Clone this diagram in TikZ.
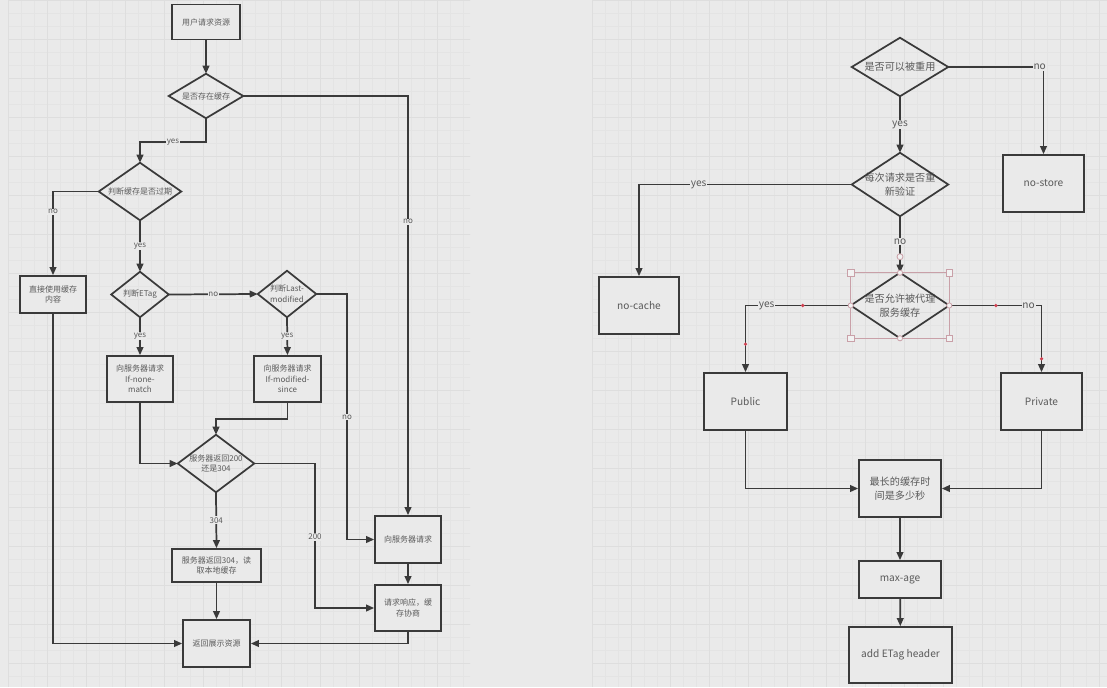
\documentclass[tikz,border=0pt]{standalone}
\usepackage{fontspec}
\usetikzlibrary{arrows.meta}
\setmainfont{Noto Sans CJK SC}
\def\pu{0.75pt}
\definecolor{bgc}{HTML}{EAEAEA}
\definecolor{gridmin}{HTML}{E4E4E4}
\definecolor{gridmaj}{HTML}{DEDEDE}
\definecolor{lc}{HTML}{3A3A3A}
\definecolor{tc}{HTML}{5A5A5A}
\definecolor{selc}{HTML}{C9A0A8}
\definecolor{dotc}{HTML}{D04050}
\tikzset{
  sz/.style 2 args={minimum width=#1*\pu, minimum height=#2*\pu},
  box/.style={draw=lc, line width=1.3pt, fill=bgc, inner sep=0pt, align=center, text=tc},
  dia/.style={inner sep=0pt, align=center, text=tc},
  dline/.style={draw=lc, line width=1.3pt, line join=miter},
  arr/.style={draw=lc, line width=1.3pt, -{Triangle[length=6pt,width=5pt]}},
  lbl/.style={fill=bgc, inner sep=0.6pt, text=tc},
  fl/.style={font=\fontsize{6}{8}\selectfont},
  fr/.style={font=\fontsize{7.6}{10}\selectfont},
}
\begin{document}
\begin{tikzpicture}[x=0.75pt,y=-0.75pt]
\useasboundingbox (0,0) rectangle (1107,687);
\fill[bgc] (0,0) rectangle (1107,687);
% grids
\begin{scope}
\clip (8,0) rectangle (470,687);
\foreach \i in {0,...,60} {\draw[gridmin,line width=0.3pt] (8+\i*13,0) -- (8+\i*13,687);}
\foreach \i in {0,...,53} {\draw[gridmin,line width=0.3pt] (0,\i*13) -- (1107,\i*13);}
\foreach \i in {0,...,20} {\draw[gridmaj,line width=0.4pt] (8+\i*39,0) -- (8+\i*39,687);}
\foreach \i in {0,...,18} {\draw[gridmaj,line width=0.4pt] (0,\i*39) -- (1107,\i*39);}
\end{scope}
\begin{scope}
\clip (592,0) rectangle (1107,687);
\foreach \i in {0,...,45} {\draw[gridmin,line width=0.3pt] (592+\i*13,0) -- (592+\i*13,687);}
\foreach \i in {0,...,53} {\draw[gridmin,line width=0.3pt] (0,\i*13) -- (1107,\i*13);}
\foreach \i in {0,...,15} {\draw[gridmaj,line width=0.4pt] (592+\i*39,0) -- (592+\i*39,687);}
\foreach \i in {0,...,18} {\draw[gridmaj,line width=0.4pt] (0,\i*39) -- (1107,\i*39);}
\end{scope}

% ---------- left flowchart ----------
\node[box,fl,sz={68}{35}] (start) at (206,22) {用户请求资源};
\node[dia,fl,sz={74}{44}] (d1) at (206,96) {是否存在缓存};
\node[dia,fl,sz={82}{57}] (d2) at (140,191.5) {判断缓存是否过期};
\node[box,fl,sz={66}{37}] (direct) at (53,294.5) {直接使用缓存\\内容};
\node[dia,fl,sz={57}{45}] (etag) at (140,294.5) {判断ETag};
\node[dia,fl,sz={58}{46}] (lm) at (287,294) {判断Last-\\modified};
\node[box,fl,sz={66}{46}] (inm) at (140,379) {向服务器请求\\If-none-\\match};
\node[box,fl,sz={67}{46}] (ims) at (287.5,379) {向服务器请求\\If-modified-\\since};
\node[dia,fl,sz={76}{57}] (d200) at (216,463.5) {服务器返回200\\还是304};
\node[box,fl,sz={89}{33}] (r304) at (216.5,565.5) {服务器返回304，读\\取本地缓存};
\node[box,fl,sz={66}{47}] (req) at (408,539.5) {向服务器请求};
\node[box,fl,sz={66}{46}] (resp) at (408,608) {请求响应，缓\\存协商};
\node[box,fl,sz={67}{47}] (ret) at (216.5,643.5) {返回展示资源};
\coordinate (k1) at (347,417);
\coordinate (k2) at (315,537);

\foreach \n in {d1,d2,etag,lm,d200} {\draw[dline] (\n.north) -- (\n.east) -- (\n.south) -- (\n.west) -- cycle;}

\draw[arr] (start) -- (d1.north);
\draw[arr] (d1.east) -| node[lbl,fl,pos=0.65]{no} (req.north);
\draw[arr] (d1.south) -- (d1.south |- 0,142) -| node[lbl,fl,pos=0.25]{yes} (d2.north);
\draw[arr] (d2.west) -| node[lbl,fl,pos=0.62]{no} (direct.north);
\draw[arr] (d2.south) -- node[lbl,fl]{yes} (etag.north);
\draw[arr] (etag.east) -- node[lbl,fl]{no} (lm.west);
\draw[arr] (etag.south) -- node[lbl,fl]{yes} (inm.north);
\draw[arr] (lm.south) -- node[lbl,fl]{yes} (ims.north);
\draw[arr] (lm.east) -| (k1) |- (req.west);
\node[lbl,fl] at (k1) {no};
\draw[arr] (req) -- (resp);
\draw[arr] (resp.south) |- (ret.east);
\draw[arr] (direct.south) |- (ret.west);
\draw[arr] (inm.south) |- (d200.west);
\draw[arr] (ims.south) -- ++(0,16) -| (d200.north);
\draw[arr] (d200.south) -- node[lbl,fl]{304} (r304.north);
\draw[arr] (r304.south) -- (ret.north);
\draw[arr] (d200.east) -| (k2) |- (resp.west);
\node[lbl,fl] at (k2) {200};

% ---------- right flowchart ----------
\node[dia,fr,sz={96}{58}] (q1) at (900,67) {是否可以被重用};
\node[box,fr,sz={81}{57}] (nostore) at (1043.5,183.5) {no-store};
\node[dia,fr,sz={96}{63}] (q2) at (900,184.5) {每次请求是否重\\新验证};
\node[box,fr,sz={80}{57}] (nocache) at (639,305.5) {no-cache};
\node[dia,fr,sz={98}{65}] (q3) at (900,305.5) {是否允许被代理\\服务缓存};
\node[box,fr,sz={83}{57}] (public) at (745.5,401.5) {Public};
\node[box,fr,sz={81}{57}] (private) at (1041.5,401.5) {Private};
\node[box,fr,sz={82}{57}] (maxt) at (900,488.5) {最长的缓存时\\间是多少秒};
\node[box,fr,sz={82}{37}] (maxage) at (900,579.5) {max-age};
\node[box,fr,sz={103}{56}] (etagh) at (900.5,655) {add ETag header};

\foreach \n in {q1,q2,q3} {\draw[dline] (\n.north) -- (\n.east) -- (\n.south) -- (\n.west) -- cycle;}

\draw[arr] (q1.east) -| node[lbl,fr,pos=0.48]{no} (nostore.north);
\draw[arr] (q1.south) -- node[lbl,fr]{yes} (q2.north);
\draw[arr] (q2.west) -| node[lbl,fr,pos=0.36]{yes} (nocache.north);
\draw[arr] (q2.south) -- node[lbl,fr,pos=0.45]{no} (q3.north);
\draw[arr] (q3.west) -| node[lbl,fr,pos=0.4]{yes} (public.north);
\draw[arr] (q3.east) -| node[lbl,fr,pos=0.43]{no} (private.north);
\draw[arr] (public.south) |- (maxt.west);
\draw[arr] (private.south) |- (maxt.east);
\draw[arr] (maxt) -- (maxage);
\draw[arr] (maxage) -- (etagh);

% selection overlay
\draw[selc,line width=0.5pt] (q3.north west) rectangle (q3.south east);
\foreach \a in {north west,north east,south west,south east} {\draw[selc,fill=bgc!60!white,line width=0.6pt] ([xshift=-2.5pt,yshift=-2.5pt]q3.\a) rectangle ([xshift=2.5pt,yshift=2.5pt]q3.\a);}
\foreach \a in {north,south,east,west} {\draw[selc,fill=bgc!60!white,line width=0.6pt] (q3.\a) circle[radius=2.6];}
\draw[selc,fill=bgc!60!white,line width=0.6pt] ([yshift=12pt]q3.north) circle[radius=3];
\fill[dotc] ([xshift=-36pt]q3.west) circle[radius=1.8];
\fill[dotc] ([yshift=21pt]public.north) circle[radius=1.8];
\fill[dotc] ([xshift=35pt]q3.east) circle[radius=1.8];
\fill[dotc] ([yshift=10pt]private.north) circle[radius=1.8];
\end{tikzpicture}
\end{document}
